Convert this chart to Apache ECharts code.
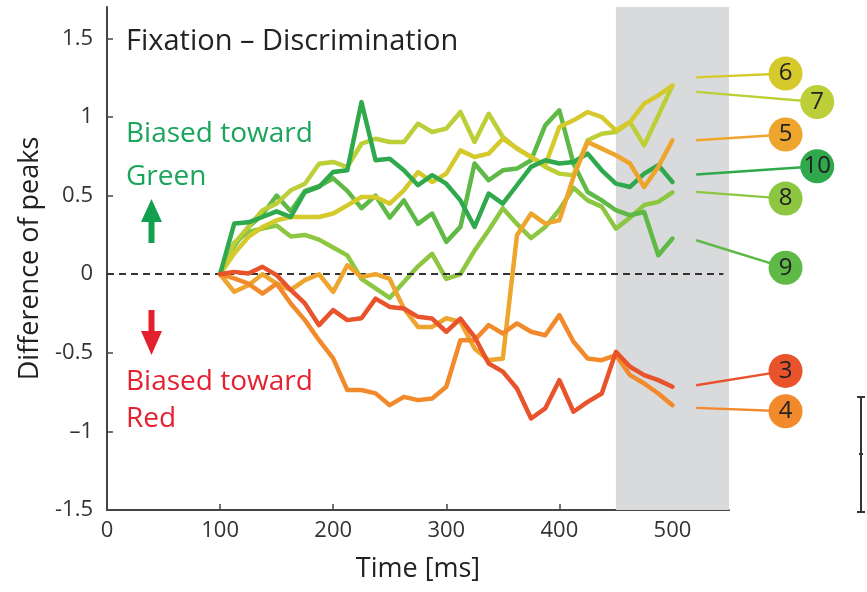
<!DOCTYPE html>
<html><head><meta charset="utf-8">
<script src="https://cdn.jsdelivr.net/npm/echarts@6/dist/echarts.min.js"></script>
<style>html,body{margin:0;padding:0;background:#fff}#c{width:867px;height:592px}</style>
</head><body><div id="c"></div>
<script>
// ---- data ----
const times = [100,112.5,125,137.5,150,162.5,175,187.5,200,212.5,225,237.5,250,262.5,275,287.5,300,312.5,325,337.5,350,362.5,375,387.5,400,412.5,425,437.5,450,462.5,475,487.5,500];
const line3 = [0,0.015,0.004,0.047,-0.006,-0.10,-0.186,-0.324,-0.228,-0.292,-0.28,-0.155,-0.208,-0.218,-0.271,-0.282,-0.366,-0.282,-0.398,-0.568,-0.62,-0.727,-0.918,-0.854,-0.674,-0.875,-0.812,-0.759,-0.494,-0.589,-0.642,-0.674,-0.716];
const line4 = [0,-0.027,-0.06,-0.123,-0.06,-0.186,-0.292,-0.42,-0.536,-0.737,-0.737,-0.758,-0.833,-0.78,-0.801,-0.79,-0.716,-0.42,-0.42,-0.324,-0.377,-0.313,-0.366,-0.388,-0.26,-0.43,-0.536,-0.547,-0.515,-0.642,-0.695,-0.759,-0.833];
const line5 = [0,-0.112,-0.07,0.0,-0.06,-0.10,-0.038,0.0,-0.112,0.057,-0.017,0.0,-0.03,-0.218,-0.335,-0.335,-0.28,-0.303,-0.472,-0.547,-0.536,0.248,0.386,0.322,0.343,0.619,0.841,0.799,0.757,0.704,0.555,0.683,0.852];
const line6 = [0,0.132,0.237,0.30,0.343,0.364,0.364,0.364,0.386,0.438,0.491,0.491,0.449,0.534,0.65,0.587,0.64,0.788,0.746,0.767,0.862,0.80,0.746,0.693,0.937,0.979,1.032,1.0,0.915,0.968,1.085,1.138,1.2];
const line7 = [0,0.195,0.301,0.407,0.449,0.534,0.576,0.703,0.714,0.682,0.83,0.862,0.841,0.841,0.958,0.905,0.926,1.032,0.841,1.021,0.873,0.799,0.746,0.683,0.64,0.63,0.852,0.894,0.905,0.968,0.82,1.01,1.2];
const line8 = [0,0.20,0.27,0.29,0.31,0.24,0.25,0.22,0.17,0.12,-0.03,-0.09,-0.15,-0.05,0.05,0.13,-0.03,0.0,0.15,0.28,0.42,0.32,0.23,0.30,0.41,0.55,0.47,0.43,0.29,0.36,0.44,0.46,0.52];
const line9 = [0,0.18,0.30,0.38,0.50,0.40,0.53,0.56,0.61,0.53,0.42,0.50,0.36,0.47,0.32,0.386,0.206,0.301,0.704,0.598,0.661,0.672,0.725,0.947,1.043,0.704,0.523,0.47,0.407,0.375,0.396,0.121,0.227];
const line10 = [0,0.322,0.33,0.364,0.40,0.364,0.523,0.555,0.65,0.661,1.095,0.725,0.735,0.661,0.566,0.63,0.576,0.47,0.301,0.513,0.449,0.566,0.683,0.725,0.704,0.714,0.767,0.661,0.576,0.555,0.64,0.693,0.587];
const xTicks = [0,100,200,300,400,500];
const yTicks = [-1.5,-1,-0.5,0,0.5,1,1.5];
const shadeRange = [450,550];
// label annotations
const labelNames = ['6','7','5','10','8','9','3','4'];
const labelCircleT = [600,628,600,628,600,600,600,600];
const labelCircleV = [1.277,1.096,0.889,0.687,0.481,0.041,-0.615,-0.872];
const labelStartT = 521;
const labelStartV = [1.252,1.16,0.852,0.634,0.524,0.216,-0.706,-0.85];

const FONT = '"Open Sans", "Noto Sans", sans-serif';
const col = {
  '3':'#e8532c','4':'#f28a2c','5':'#eea52e','6':'#d5c92b','7':'#bccf38','8':'#8dc640','9':'#5fb946','10':'#2fa94b'
};
const seriesDefs = [
  ['8', line8],['9', line9],['7', line7],['6', line6],['10', line10],['5', line5],['4', line4],['3', line3]
];
const chart = echarts.init(document.getElementById('c'), null, {renderer:'canvas'});
const series = seriesDefs.map(([n, vals], k) => ({
  name: n, type: 'line', data: times.map((t,i)=>[t, vals[i]]),
  showSymbol: false, symbol: 'none', smooth: false, silent: true,
  lineStyle: {width: 4.5, color: col[n], join: 'round', cap: 'round'}, itemStyle:{color: col[n]},
  z: 3 + k
}));
series.push({
  type: 'line', data: [], silent: true,
  markArea: {silent: true, itemStyle: {color: '#d9dadc'}, data: [[{xAxis: shadeRange[0]}, {xAxis: shadeRange[1]}]]},
  markLine: {silent: true, symbol: ['none','none'], label:{show:false},
    lineStyle: {color:'#333', width: 1.8, type: [7,5]},
    data: [[{coord:[0,0]},{coord:[545,0]}]]},
  z: 1
});
chart.setOption({
  animation: false,
  backgroundColor: '#fff',
  grid: {left: 107, right: 138, top: 7, bottom: 82},
  xAxis: {
    type: 'value', min: 0, max: 550,
    name: 'Time [ms]', nameLocation: 'middle', nameGap: 46,
    nameTextStyle: {fontFamily: FONT, fontSize: 27, color: '#222'},
    axisLine: {onZero: false, lineStyle: {color: '#444', width: 2}},
    axisTick: {inside: true, length: 6, customValues: xTicks, lineStyle:{color:'#444', width:1.5}},
    axisLabel: {customValues: xTicks, fontFamily: FONT, fontSize: 22, color: '#333', margin: 10},
    splitLine: {show: false}
  },
  yAxis: {
    type: 'value', min: -1.5, max: 1.7,
    name: 'Difference of peaks', nameLocation: 'middle', nameGap: 62, nameRotate: 90,
    nameTextStyle: {fontFamily: FONT, fontSize: 27, color: '#222'},
    axisLine: {onZero: false, lineStyle: {color: '#444', width: 2}},
    axisTick: {inside: true, length: 6, customValues: yTicks, lineStyle:{color:'#444', width:1.5}},
    axisLabel: {customValues: yTicks, fontFamily: FONT, fontSize: 22, color: '#333', margin: 14,
      formatter: v => v === -1 ? '\u20131' : String(v)},
    splitLine: {show: false}
  },
  series: series
});

// ---- annotations ----
const g = [];
const green = '#1aa55a', red = '#e42130';
g.push({type:'text', left: 126, top: 27, style:{text:'Fixation \u2013 Discrimination', font:'29px ' + FONT, fill:'#222'}});
g.push({type:'text', left: 126, top: 120, style:{text:'Biased toward', font:'28px ' + FONT, fill: green}});
g.push({type:'text', left: 126, top: 163, style:{text:'Green', font:'28px ' + FONT, fill: green}});
g.push({type:'text', left: 126, top: 368, style:{text:'Biased toward', font:'28px ' + FONT, fill: red}});
g.push({type:'text', left: 126, top: 405, style:{text:'Red', font:'28px ' + FONT, fill: red}});
// arrows
g.push({type:'polygon', shape:{points:[[148.5,243],[154.5,243],[154.5,222],[162,222],[151.5,199],[141,222],[148.5,222]]}, style:{fill:'#12a04e'}});
g.push({type:'polygon', shape:{points:[[148.5,310],[154.5,310],[154.5,331],[162,331],[151.5,355],[141,331],[148.5,331]]}, style:{fill:'#e3202e'}});
// scale bar
const sb = {stroke:'#333', lineWidth: 2};
g.push({type:'line', shape:{x1:861,y1:397,x2:861,y2:512}, style: sb});
g.push({type:'line', shape:{x1:857,y1:397,x2:865,y2:397}, style: sb});
g.push({type:'line', shape:{x1:857,y1:512,x2:865,y2:512}, style: sb});
g.push({type:'line', shape:{x1:859,y1:454,x2:863,y2:454}, style: sb});
// labels
labelNames.forEach((n, i) => {
  const p0 = chart.convertToPixel({gridIndex:0}, [labelStartT, labelStartV[i]]);
  const p1 = chart.convertToPixel({gridIndex:0}, [labelCircleT[i], labelCircleV[i]]);
  g.push({type:'line', shape:{x1:p0[0], y1:p0[1], x2:p1[0], y2:p1[1]}, style:{stroke: col[n], lineWidth: 2.4}, z: 20});
  g.push({type:'circle', shape:{cx:p1[0], cy:p1[1], r:17}, style:{fill: col[n]}, z: 21});
  g.push({type:'text', x:p1[0], y:p1[1], style:{text:n, font:'24px ' + FONT, fill:'#222', align:'center', verticalAlign:'middle'}, z: 22});
});
chart.setOption({graphic: g});
</script></body></html>
